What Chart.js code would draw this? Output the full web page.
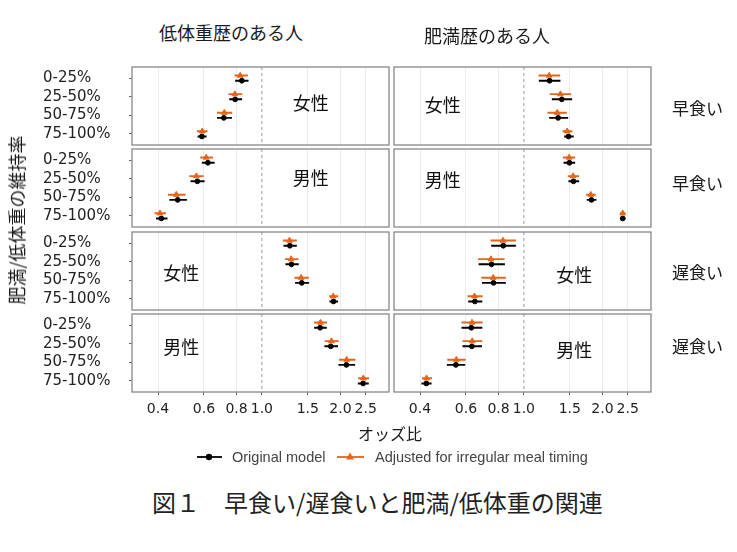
<!DOCTYPE html>
<html>
<head>
<meta charset="utf-8">
<script src="https://cdn.jsdelivr.net/npm/chart.js@4.4.1/dist/chart.umd.min.js"></script>
<style>
  body { margin: 0; background: #fff; }
  #fig { position: relative; width: 737px; height: 552px; overflow: hidden; font-family: 'Noto Sans CJK JP', sans-serif; color: #1a1a1a; }
  #fig canvas { position: absolute; }
  .t { position: absolute; white-space: nowrap; line-height: 1; z-index: 2; }
  .c { transform: translate(-50%, -50%); }
  .l { transform: translateY(-50%); }
  .legend { font-family: 'Liberation Sans', Arial, sans-serif; font-size: 14.5px; color: #444; }
</style>
</head>
<body>
<div id="fig">
  <div class="t c" style="left:231px;top:32px;font-size:18px">低体重歴のある人</div>
  <div class="t c" style="left:487px;top:35px;font-size:18px">肥満歴のある人</div>

  <div class="t l" style="left:672px;top:107px;font-size:17px">早食い</div>
  <div class="t l" style="left:672px;top:182px;font-size:17px">早食い</div>
  <div class="t l" style="left:672px;top:271px;font-size:17px">遅食い</div>
  <div class="t l" style="left:672px;top:345px;font-size:17px">遅食い</div>

  <div class="t" style="left:16px;top:220px;font-size:18px;transform:translate(-50%,-50%) rotate(-90deg)">肥満/低体重の維持率</div>
  <div class="t c" style="left:390px;top:433px;font-size:16px">オッズ比</div>

  <svg class="t" style="left:196px;top:450px" width="28" height="14">
    <line x1="1" y1="7" x2="26" y2="7" stroke="#000" stroke-width="1.8"/>
    <circle cx="13" cy="7" r="3.2" fill="#000"/>
  </svg>
  <div class="t l legend" style="left:232px;top:457px">Original model</div>
  <svg class="t" style="left:336px;top:450px" width="30" height="14">
    <line x1="1" y1="7" x2="28" y2="7" stroke="#E6651A" stroke-width="1.8"/>
    <polygon points="14,2.5 18,9.5 10,9.5" fill="#E6651A"/>
  </svg>
  <div class="t l legend" style="left:375px;top:457px">Adjusted for irregular meal timing</div>

  <div class="t l" style="left:152px;top:502px;font-size:24px;color:#222">図１　早食い/遅食いと肥満/低体重の関連</div>
</div>

<script>
const ROWS = ['0-25%', '25-50%', '50-75%', '75-100%'];
const X_TICKS = [0.4, 0.6, 0.8, 1.0, 1.5, 2.0, 2.5];
const X_MIN = 0.318;
const X_MAX = 3.07;
const NULL_OR = 1.0;

// each row: [odds ratio, lower CI, upper CI]
const UW_EARLY_F_ORIG = [[0.838, 0.790, 0.889], [0.790, 0.750, 0.840], [0.715, 0.673, 0.768], [0.589, 0.567, 0.614]];
const UW_EARLY_F_ADJ  = [[0.826, 0.786, 0.884], [0.788, 0.745, 0.841], [0.718, 0.673, 0.770], [0.591, 0.564, 0.619]];
const UW_EARLY_M_ORIG = [[0.621, 0.589, 0.659], [0.566, 0.533, 0.603], [0.476, 0.442, 0.516], [0.412, 0.393, 0.435]];
const UW_EARLY_M_ADJ  = [[0.612, 0.581, 0.650], [0.561, 0.527, 0.598], [0.470, 0.437, 0.510], [0.407, 0.388, 0.429]];
const OB_EARLY_F_ORIG = [[1.254, 1.141, 1.381], [1.398, 1.280, 1.531], [1.353, 1.250, 1.478], [1.482, 1.427, 1.553]];
const OB_EARLY_F_ADJ  = [[1.250, 1.138, 1.377], [1.381, 1.257, 1.517], [1.342, 1.232, 1.461], [1.465, 1.406, 1.535]];
const OB_EARLY_M_ORIG = [[1.495, 1.419, 1.572], [1.549, 1.482, 1.628], [1.815, 1.742, 1.897], [2.392, 2.336, 2.449]];
const OB_EARLY_M_ADJ  = [[1.491, 1.411, 1.572], [1.544, 1.473, 1.628], [1.805, 1.732, 1.886], [2.392, 2.336, 2.449]];
const UW_LATE_F_ORIG  = [[1.280, 1.210, 1.361], [1.299, 1.232, 1.385], [1.422, 1.341, 1.517], [1.881, 1.816, 1.958]];
const UW_LATE_F_ADJ   = [[1.276, 1.204, 1.361], [1.295, 1.225, 1.381], [1.414, 1.333, 1.513], [1.876, 1.811, 1.964]];
const UW_LATE_M_ORIG  = [[1.672, 1.586, 1.773], [1.836, 1.736, 1.958], [2.108, 1.966, 2.277], [2.442, 2.332, 2.568]];
const UW_LATE_M_ADJ   = [[1.677, 1.586, 1.778], [1.847, 1.741, 1.970], [2.114, 1.978, 2.283], [2.449, 2.339, 2.575]];
const OB_LATE_F_ORIG  = [[0.834, 0.750, 0.932], [0.752, 0.671, 0.846], [0.765, 0.691, 0.853], [0.649, 0.612, 0.693]];
const OB_LATE_F_ADJ   = [[0.832, 0.745, 0.932], [0.748, 0.667, 0.843], [0.763, 0.687, 0.853], [0.647, 0.608, 0.695]];
const OB_LATE_M_ORIG  = [[0.629, 0.577, 0.693], [0.632, 0.582, 0.691], [0.549, 0.507, 0.596], [0.423, 0.405, 0.443]];
const OB_LATE_M_ADJ   = [[0.633, 0.577, 0.695], [0.634, 0.582, 0.693], [0.551, 0.509, 0.598], [0.424, 0.407, 0.445]];

const BLACK = '#000000';
const ORANGE = '#E6651A';
const Y_FONT = { family: 'DejaVu Sans', size: 15 };
const X_FONT = { family: 'DejaVu Sans', size: 14 };

// panel layout (px)
const COL_X = [132, 394];
const ROW_Y = [67, 149, 232, 314];
const PANEL_W = 257;
const PANEL_H = 78;
const LABEL_X = 43;
const PAD = 16;
const XAXIS_H = 30;
const DODGE = 0.14;

// sex label sits at an (odds ratio, row) spot inside each panel
const PANELS = [
  { col: 0, row: 0, orig: UW_EARLY_F_ORIG, adj: UW_EARLY_F_ADJ, sex: '女性', at: [1.54, 1.34] },
  { col: 0, row: 1, orig: UW_EARLY_M_ORIG, adj: UW_EARLY_M_ADJ, sex: '男性', at: [1.54, 0.97] },
  { col: 1, row: 0, orig: OB_EARLY_F_ORIG, adj: OB_EARLY_F_ADJ, sex: '女性', at: [0.489, 1.44] },
  { col: 1, row: 1, orig: OB_EARLY_M_ORIG, adj: OB_EARLY_M_ADJ, sex: '男性', at: [0.489, 1.10] },
  { col: 0, row: 2, orig: UW_LATE_F_ORIG, adj: UW_LATE_F_ADJ, sex: '女性', at: [0.491, 1.60] },
  { col: 0, row: 3, orig: UW_LATE_M_ORIG, adj: UW_LATE_M_ADJ, sex: '男性', at: [0.491, 1.17] },
  { col: 1, row: 2, orig: OB_LATE_F_ORIG, adj: OB_LATE_F_ADJ, sex: '女性', at: [1.56, 1.75] },
  { col: 1, row: 3, orig: OB_LATE_M_ORIG, adj: OB_LATE_M_ADJ, sex: '男性', at: [1.56, 1.37] },
];

function ciSegments(rows, shift) {
  // null y breaks the line between rows
  return rows.flatMap(([, lo, hi], i) => [
    { x: lo, y: i + shift },
    { x: hi, y: i + shift },
    { x: hi, y: null },
  ]);
}

function estimates(rows, shift) {
  return rows.map(([or], i) => ({ x: or, y: i + shift }));
}

const panelDecor = {
  id: 'panelDecor',
  afterDatasetsDraw(chart, args, opts) {
    const { ctx, chartArea: a, scales } = chart;
    ctx.save();
    ctx.strokeStyle = '#888888';
    ctx.lineWidth = 1.3;
    ctx.strokeRect(a.left, a.top, a.right - a.left, a.bottom - a.top);
    ctx.fillStyle = '#111';
    ctx.font = '18px "Noto Sans CJK JP"';
    ctx.textAlign = 'center';
    ctx.textBaseline = 'middle';
    ctx.fillText(opts.label, scales.x.getPixelForValue(opts.at[0]), scales.y.getPixelForValue(opts.at[1]));
    ctx.restore();
  },
};

function createPanel(fig, p) {
  const isLeft = p.col === 0;
  const isBottom = p.row === 3;
  const canvas = document.createElement('canvas');
  const left = isLeft ? 0 : COL_X[1] - PAD;
  const width = isLeft ? COL_X[0] + PANEL_W + PAD : PANEL_W + 2 * PAD;
  const height = PAD + PANEL_H + (isBottom ? XAXIS_H : PAD);
  canvas.width = width;
  canvas.height = height;
  canvas.style.left = `${left}px`;
  canvas.style.top = `${ROW_Y[p.row] - PAD}px`;
  canvas.style.width = `${width}px`;
  canvas.style.height = `${height}px`;
  fig.appendChild(canvas);

  return new Chart(canvas, {
    type: 'scatter',
    data: {
      datasets: [
        {
          type: 'scatter',
          data: estimates(p.adj, -DODGE),
          pointStyle: 'triangle',
          pointRadius: 3.3,
          borderWidth: 1,
          backgroundColor: ORANGE,
          borderColor: ORANGE,
          order: 1,
        },
        {
          type: 'scatter',
          data: estimates(p.orig, DODGE),
          pointStyle: 'circle',
          pointRadius: 2.4,
          borderWidth: 1,
          backgroundColor: BLACK,
          borderColor: BLACK,
          order: 2,
        },
        {
          type: 'line',
          data: ciSegments(p.adj, -DODGE),
          borderColor: ORANGE,
          borderWidth: 1.9,
          pointRadius: 0,
          spanGaps: false,
          order: 3,
        },
        {
          type: 'line',
          data: ciSegments(p.orig, DODGE),
          borderColor: BLACK,
          borderWidth: 1.9,
          pointRadius: 0,
          spanGaps: false,
          order: 4,
        },
        {
          type: 'line',
          data: [{ x: NULL_OR, y: -0.6 }, { x: NULL_OR, y: 3.6 }],
          borderColor: '#9a9a9a',
          borderWidth: 1,
          borderDash: [3, 3],
          pointRadius: 0,
          order: 5,
        },
      ],
    },
    options: {
      responsive: false,
      animation: false,
      events: [],
      layout: {
        padding: { left: isLeft ? LABEL_X : PAD, right: PAD, top: PAD, bottom: isBottom ? 0 : PAD },
      },
      plugins: {
        legend: { display: false },
        tooltip: { enabled: false },
        panelDecor: { label: p.sex, at: p.at },
      },
      scales: {
        x: {
          type: 'logarithmic',
          min: X_MIN,
          max: X_MAX,
          bounds: 'data',
          afterBuildTicks: (s) => { s.ticks = X_TICKS.map((v) => ({ value: v })); },
          afterFit: (s) => { s.height = isBottom ? XAXIS_H : 0; },
          grid: {
            color: (c) => (c.tick && c.tick.value === NULL_OR ? 'rgba(0,0,0,0)' : '#ebebeb'),
            lineWidth: 1,
            drawTicks: isBottom,
            tickLength: 3,
            tickColor: '#666',
            tickWidth: 1,
          },
          border: { display: false },
          ticks: {
            display: isBottom,
            font: X_FONT,
            color: '#222',
            padding: 6,
            maxRotation: 0,
            autoSkip: false,
            callback: (v) => Number(v).toFixed(1),
          },
        },
        y: {
          type: 'linear',
          display: isLeft,
          min: -0.6,
          max: 3.6,
          reverse: true,
          bounds: 'data',
          afterBuildTicks: (s) => { s.ticks = ROWS.map((_, i) => ({ value: i })); },
          afterFit: (s) => { s.width = isLeft ? COL_X[0] - LABEL_X : 0; },
          grid: { drawOnChartArea: false, drawTicks: true, tickLength: 3, tickColor: '#666' },
          border: { display: false },
          ticks: {
            font: Y_FONT,
            color: '#222',
            crossAlign: 'far',
            padding: 3,
            autoSkip: false,
            callback: (v) => ROWS[v],
          },
        },
      },
    },
    plugins: [panelDecor],
  });
}

const fig = document.getElementById('fig');
PANELS.forEach((p) => createPanel(fig, p));
</script>
</body>
</html>
